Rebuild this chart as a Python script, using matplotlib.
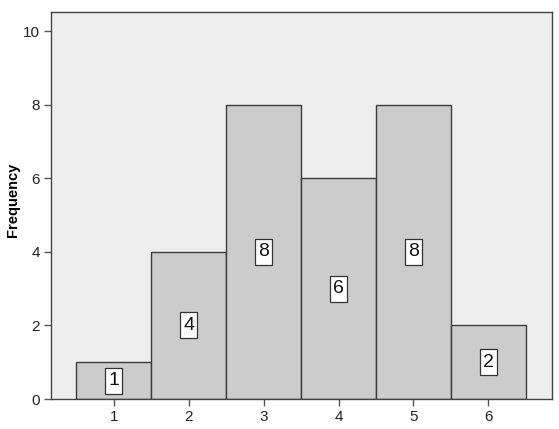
import matplotlib
matplotlib.use('Agg')
import matplotlib.pyplot as plt
import matplotlib.transforms as mtrans
from matplotlib.patches import Rectangle

plt.rcParams['font.family'] = ['Liberation Sans', 'DejaVu Sans']

categories = [1, 2, 3, 4, 5, 6]
counts = [1, 4, 8, 6, 8, 2]
yticks = [0, 2, 4, 6, 8, 10]

fig = plt.figure(figsize=(5.59, 4.29), dpi=100)
ax = fig.add_axes([0.0912, 0.0699, 0.8963, 0.9021])
ax.set_facecolor('#eeeeee')

ax.bar(categories, counts, width=1.0, color='#cccccc', edgecolor='#3c3c3c', linewidth=1.0, zorder=2)

# count labels in white boxes at half bar height
for c, n in zip(categories, counts):
    tr = fig.dpi_scale_trans + mtrans.ScaledTranslation(c, n / 2, ax.transData)
    ax.add_patch(Rectangle((-0.085, -0.13), 0.17, 0.26, transform=tr, facecolor='white',
                           edgecolor='#333333', linewidth=0.9, zorder=3))
    ax.text(c, n / 2, str(n), ha='center', va='center', fontsize=14, color='#111111', zorder=4)

ax.set_xlim(0.16, 6.85)
ax.set_ylim(0, 10.52)
ax.set_xticks(categories)
ax.set_yticks(yticks)
ax.tick_params(axis='both', labelsize=11, color='#555555', labelcolor='#222222', length=5, width=1, pad=3)
ax.set_ylabel('Frequency', fontsize=10.5, fontweight='bold')
ax.yaxis.set_label_coords(-0.062, 0.514)

for s in ax.spines.values():
    s.set_color('#444444')
    s.set_linewidth(1.0)

plt.savefig('out.png', dpi=100)
